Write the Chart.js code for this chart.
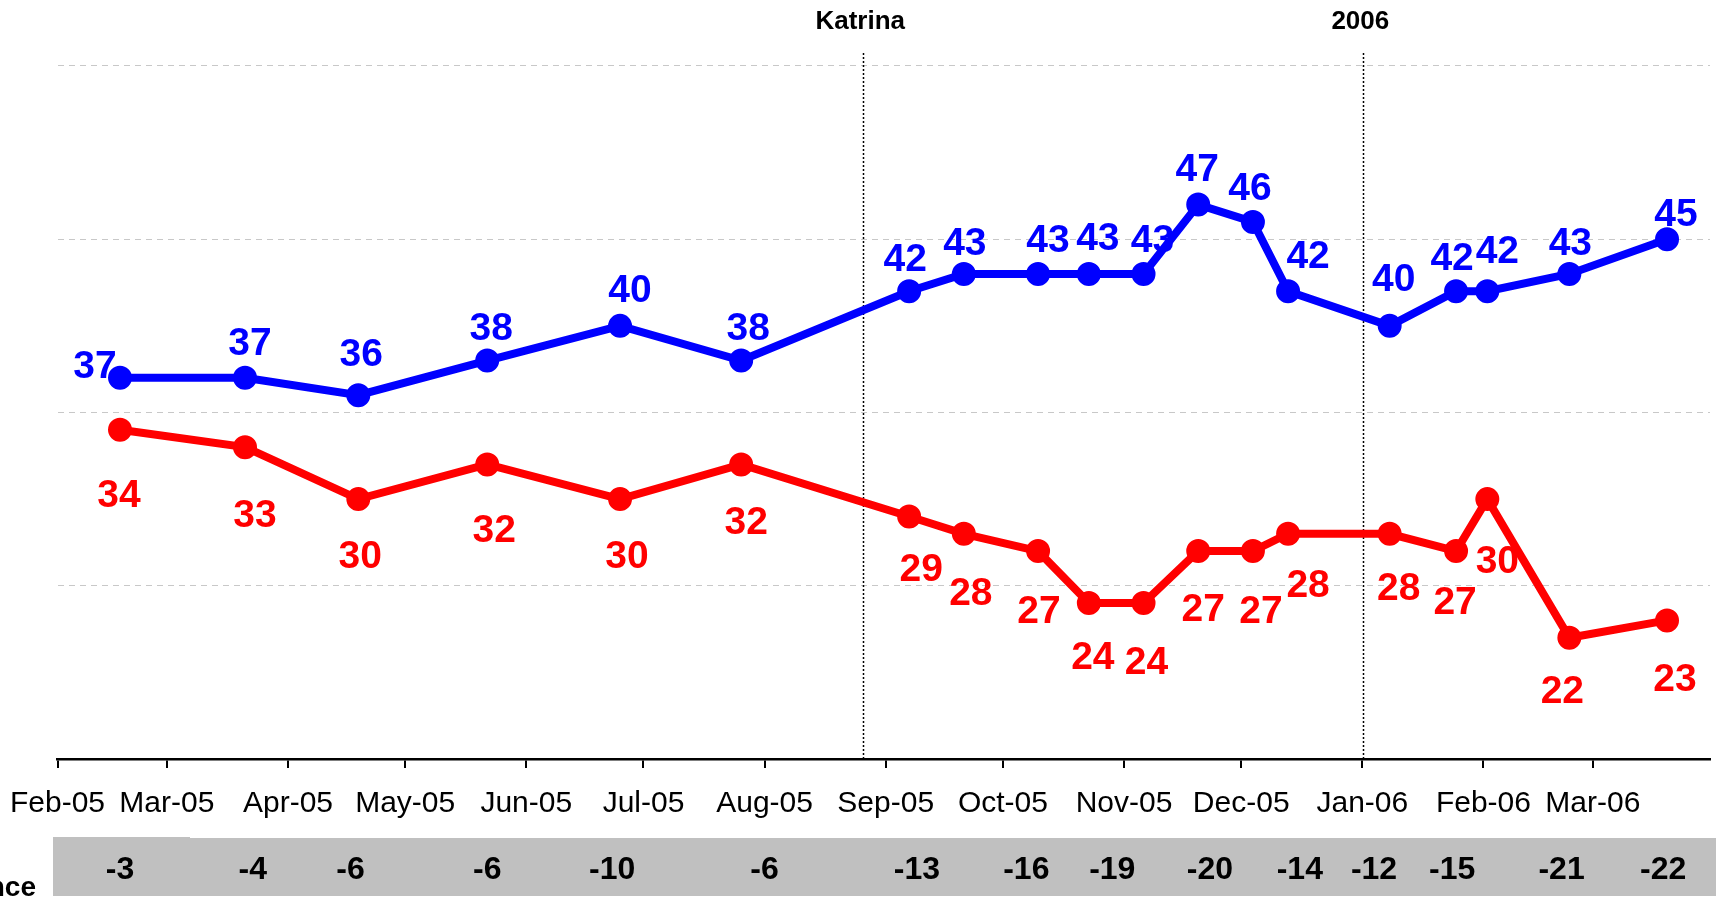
<!DOCTYPE html>
<html>
<head>
<meta charset="utf-8">
<script src="https://cdn.jsdelivr.net/npm/chart.js@4.4.1/dist/chart.umd.min.js"></script>
<style>
  html, body { margin: 0; padding: 0; background: #ffffff; }
  #wrap { width: 1723px; height: 900px; position: relative; }
</style>
</head>
<body>
<div id="wrap"><canvas id="c" width="1723" height="900"></canvas></div>
<script>
// ---------- DATA ----------
const axisStart = '2005-02-01';
const axisEnd = '2006-03-31';
const monthStarts = ['2005-02-01','2005-03-01','2005-04-01','2005-05-01','2005-06-01','2005-07-01','2005-08-01',
                     '2005-09-01','2005-10-01','2005-11-01','2005-12-01','2006-01-01','2006-02-01','2006-03-01'];
const monthLabels = ['Feb-05','Mar-05','Apr-05','May-05','Jun-05','Jul-05','Aug-05',
                     'Sep-05','Oct-05','Nov-05','Dec-05','Jan-06','Feb-06','Mar-06'];
const pollDates = ['2005-02-17','2005-03-21','2005-04-19','2005-05-22','2005-06-25','2005-07-26',
                   '2005-09-07','2005-09-21','2005-10-10','2005-10-23','2005-11-06','2005-11-20',
                   '2005-12-04','2005-12-13','2006-01-08','2006-01-25','2006-02-02','2006-02-23','2006-03-20'];
const blueValues = [37,37,36,38,40,38,42,43,43,43,43,47,46,42,40,42,42,43,45];
const redValues  = [34,33,30,32,30,32,29,28,27,24,24,27,27,28,28,27,30,22,23];
const diffDates = ['2005-02-17','2005-03-23','2005-04-17','2005-05-22','2005-06-23','2005-08-01','2005-09-09',
                   '2005-10-07','2005-10-29','2005-11-23','2005-12-16','2006-01-04','2006-01-24','2006-02-21','2006-03-19'];
const diffValues = [-3,-4,-6,-6,-10,-6,-13,-16,-19,-20,-14,-12,-15,-21,-22];
const eventLabels = ['Katrina','2006'];
const eventDates = ['2005-08-26','2006-01-01'];
const gridValues = [25,35,45,55];
const rowTitle = 'Difference';

// ---------- LABEL NUDGES (pixels, relative to each point) ----------
const blueLabelShift = [[-25,-14],[5,-37],[3,-43],[4,-34],[10,-38],[7,-34],[-4,-34],[1,-33],[10,-36],[9,-38],
                        [9,-36],[-1,-38],[-3,-36],[20,-37],[4,-49],[-4,-35],[10,-42],[1,-33],[9,-27]];
const redLabelShift  = [[-1,63],[10,66],[2,55],[7,64],[7,55],[5,56],[12,51],[7,57],[1,58],[4,52],
                        [3,57],[5,56],[8,58],[20,49],[9,52],[-1,49],[10,60],[-7,51],[8,57]];

const FONT = "'Liberation Sans', Arial, Helvetica, sans-serif";
const BLUE = '#0000ff', RED = '#ff0000';

function dayNum(s) { return (Date.parse(s) - Date.parse(axisStart)) / 86400000; }

const bluePts = pollDates.map((d, i) => ({ x: dayNum(d), y: blueValues[i] }));
const redPts  = pollDates.map((d, i) => ({ x: dayNum(d), y: redValues[i] }));

function drawNumber(ctx, text, cx, cy, size, color) {
  ctx.save();
  ctx.font = 'bold ' + size + 'px ' + FONT;
  ctx.fillStyle = color;
  ctx.textAlign = 'center';
  ctx.textBaseline = 'alphabetic';
  ctx.fillText(text, cx, cy + size * 0.358);
  ctx.restore();
}

const overlay = {
  id: 'overlay',
  beforeDatasetsDraw(chart) {
    const { ctx, chartArea, scales } = chart;
    ctx.save();
    ctx.strokeStyle = '#000000';
    ctx.lineWidth = 1.5;
    ctx.setLineDash([2, 2]);
    eventDates.forEach((d) => {
      const x = Math.round(scales.x.getPixelForValue(dayNum(d))) + 1.5;
      ctx.beginPath();
      ctx.moveTo(x, chartArea.top);
      ctx.lineTo(x, chartArea.bottom);
      ctx.stroke();
    });
    ctx.restore();
    eventDates.forEach((d, i) => {
      const x = scales.x.getPixelForValue(dayNum(d));
      drawNumber(ctx, eventLabels[i], x - 2, 20, 26, '#000000');
    });
  },
  afterDatasetsDraw(chart) {
    const { ctx } = chart;
    const m0 = chart.getDatasetMeta(0).data;
    const m1 = chart.getDatasetMeta(1).data;
    m0.forEach((p, i) => {
      drawNumber(ctx, String(blueValues[i]), p.x + blueLabelShift[i][0], p.y + blueLabelShift[i][1], 39, BLUE);
    });
    m1.forEach((p, i) => {
      drawNumber(ctx, String(redValues[i]), p.x + redLabelShift[i][0], p.y + redLabelShift[i][1], 39, RED);
    });
  },
  afterDraw(chart) {
    const { ctx, scales } = chart;
    ctx.save();
    ctx.fillStyle = '#c0c0c0';
    ctx.fillRect(53, 837, 137, 59);
    ctx.fillRect(189, 838, 1527, 58);
    ctx.restore();
    diffDates.forEach((d, i) => {
      const x = scales.x.getPixelForValue(dayNum(d));
      drawNumber(ctx, String(diffValues[i]), x, 868, 32, '#000000');
    });
    ctx.save();
    ctx.font = 'bold 28px ' + FONT;
    ctx.fillStyle = '#000000';
    ctx.textAlign = 'right';
    ctx.textBaseline = 'alphabetic';
    ctx.fillText(rowTitle, 36, 896);
    ctx.restore();
  }
};

new Chart(document.getElementById('c'), {
  type: 'line',
  data: {
    datasets: [
      { data: bluePts, borderColor: BLUE, backgroundColor: BLUE, borderWidth: 8,
        pointRadius: 11, pointHoverRadius: 11, pointBorderWidth: 2, pointBackgroundColor: BLUE, pointBorderColor: BLUE, tension: 0 },
      { data: redPts, borderColor: RED, backgroundColor: RED, borderWidth: 8,
        pointRadius: 11, pointHoverRadius: 11, pointBorderWidth: 2, pointBackgroundColor: RED, pointBorderColor: RED, tension: 0 }
    ]
  },
  options: {
    responsive: false,
    animation: false,
    events: [],
    layout: { padding: { left: 57.5, right: 11.5, top: 53, bottom: 0 } },
    plugins: { legend: { display: false }, tooltip: { enabled: false } },
    scales: {
      x: {
        type: 'linear',
        min: 0,
        max: dayNum(axisEnd),
        afterBuildTicks(scale) { scale.ticks = monthStarts.map(d => ({ value: dayNum(d) })); },
        afterFit(scale) { scale.height = 141; scale.paddingLeft = 0; scale.paddingRight = 0; },
        ticks: {
          autoSkip: false, maxRotation: 0, minRotation: 0, padding: 18,
          color: '#000000',
          font: { family: FONT, size: 30 },
          callback: (v, i) => monthLabels[i]
        },
        grid: { drawOnChartArea: false, drawTicks: true, tickLength: 9, color: '#000000', lineWidth: 2 },
        border: { display: true, color: '#000000', width: 2.5 }
      },
      y: {
        min: 15,
        max: 55.75,
        afterBuildTicks(scale) { scale.ticks = gridValues.map(v => ({ value: v })); },
        afterFit(scale) { scale.width = 0; scale.paddingTop = 0; scale.paddingBottom = 0; },
        ticks: { display: false },
        grid: { drawTicks: false, color: '#c8c8c8', lineWidth: 1 },
        border: { display: false, dash: [6, 5] }
      }
    }
  },
  plugins: [overlay]
});
</script>
</body>
</html>
